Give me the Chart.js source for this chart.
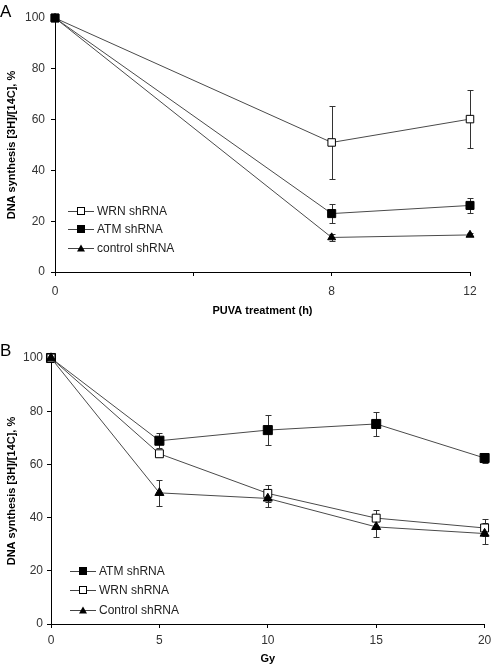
<!DOCTYPE html>
<html>
<head>
<meta charset="utf-8">
<script src="https://cdn.jsdelivr.net/npm/chart.js@4.4.1/dist/chart.umd.min.js"></script>
<style>
  body { margin: 0; background: #fff; font-family: "Liberation Sans", Arial, sans-serif; }
  #page { position: relative; width: 492px; height: 666px; overflow: hidden; }
  .panel { position: absolute; left: 0; width: 492px; }
  .tag { position: absolute; left: 0; font-size: 17px; line-height: 17px; color: #000; }
  .legend { position: absolute; font-size: 12px; color: #222; }
  .legend .row { position: relative; display: flex; align-items: center; }
  .legend .sym { position: relative; width: 26px; height: 12px; margin-right: 3px; }
  .legend .sym .ln { position: absolute; left: 0; right: 0; top: 6px; height: 1px; background: #444; }
  .legend .sym .mk { position: absolute; left: 50%; top: 50%; transform: translate(-50%, -50%); box-sizing: border-box; }
</style>
</head>
<body>
<div id="page">
  <div class="panel" style="top:0;height:330px;">
    <canvas id="chartA" width="492" height="330"></canvas>
  </div>
  <div class="panel" style="top:330px;height:336px;">
    <canvas id="chartB" width="492" height="336"></canvas>
  </div>
  <div class="tag" style="top:3px;">A</div>
  <div class="tag" style="top:342px;">B</div>
  <div class="legend" id="legendA" style="left:68px;top:202px;"></div>
  <div class="legend" id="legendB" style="left:70px;top:561px;"></div>
</div>
<script>
// ---- Panel A: PUVA treatment ----
const hoursA = [0, 8, 12];
const xTicksA = [0, 4, 8, 12]; // tick at 4 has no label in the original
const wrnA = [100, 51.0, 60.2];
const wrnErrA = [0, 14.2, 11.4];
const atmA = [100, 23.0, 26.2];
const atmErrA = [0, 3.9, 3.1];
const ctrlA = [100, 13.6, 14.6];
const ctrlErrA = [0, 1.4, 0.6];

// ---- Panel B: ionizing radiation ----
const doseB = [0, 5, 10, 15, 20];
const xTicksB = [0, 5, 10, 15, 20];
const atmB = [100, 68.9, 72.9, 75.2, 62.4];
const atmErrB = [0, 2.9, 5.5, 4.6, 1.7];
const wrnB = [100, 64.0, 49.1, 39.8, 36.1];
const wrnErrB = [0, 1.0, 3.2, 3.0, 3.2];
const ctrlB = [100, 49.3, 47.2, 36.5, 34.0];
const ctrlErrB = [0, 5.0, 3.2, 3.8, 3.8];

const yTicks = [0, 20, 40, 60, 80, 100];
const yTitle = "DNA synthesis [3H]/[14C], %";

const FONT = "'Liberation Sans', Arial, sans-serif";
const LINE = "#4a4a4a";

// barras de error verticales con tapas
const errorBars = {
  id: "errorBars",
  beforeDatasetsDraw(chart) {
    const { ctx, scales: { x, y } } = chart;
    ctx.save();
    ctx.strokeStyle = "#333";
    ctx.lineWidth = 1;
    chart.data.datasets.forEach((ds) => {
      (ds.errors || []).forEach((e, i) => {
        if (!e) return;
        const p = ds.data[i];
        const px = Math.round(x.getPixelForValue(p.x)) + 0.5;
        const top = Math.round(y.getPixelForValue(p.y + e)) + 0.5;
        const bot = Math.round(y.getPixelForValue(p.y - e)) + 0.5;
        ctx.beginPath();
        ctx.moveTo(px, top); ctx.lineTo(px, bot);
        ctx.moveTo(px - 3, top); ctx.lineTo(px + 3, top);
        ctx.moveTo(px - 3, bot); ctx.lineTo(px + 3, bot);
        ctx.stroke();
      });
    });
    ctx.restore();
  },
};

function series(label, xs, ys, errs, style, order, radius) {
  return {
    label: label,
    data: xs.map((x, i) => ({ x: x, y: ys[i] })),
    errors: errs,
    showLine: true,
    borderColor: LINE,
    borderWidth: 1,
    pointStyle: style === "tri" ? "triangle" : "rect",
    pointRadius: radius,
    pointBackgroundColor: style === "open" ? "#fff" : "#000",
    pointBorderColor: "#000",
    pointBorderWidth: 1,
    clip: false,
    order: order,
    legendStyle: style,
  };
}

function makeChart(id, datasets, xs, xMax, xTitle, box) {
  return new Chart(document.getElementById(id), {
    type: "scatter",
    data: { datasets: datasets },
    plugins: [errorBars],
    options: {
      responsive: false,
      animation: false,
      events: [],
      layout: { padding: { top: box.top, right: box.right, left: 0, bottom: 0 } },
      plugins: { legend: { display: false }, tooltip: { enabled: false } },
      scales: {
        x: {
          type: "linear",
          min: 0,
          max: xMax,
          afterFit: (s) => {
            s.height = box.xh;
            s.paddingLeft = 0;
            s.paddingRight = 0;
          },
          afterBuildTicks: (s) => { s.ticks = xs.map((v) => ({ value: v })); },
          ticks: {
            color: "#333",
            padding: box.xpad,
            maxRotation: 0,
            font: { family: FONT, size: 12 },
            callback: (v) => (box.hideTick === v ? "" : v),
          },
          grid: { display: true, drawOnChartArea: false, tickLength: 4, color: "#000" },
          border: { display: true, color: "#000" },
          title: {
            display: true,
            text: xTitle,
            color: "#000",
            font: { family: FONT, size: 11, weight: "bold" },
            padding: { top: 0, bottom: box.titlePad },
          },
        },
        y: {
          min: 0,
          max: 100,
          afterFit: (s) => { s.width = box.yw; },
          afterBuildTicks: (s) => { s.ticks = yTicks.map((v) => ({ value: v })); },
          ticks: { color: "#333", padding: box.ypad, font: { family: FONT, size: 12 } },
          grid: { display: true, drawOnChartArea: false, tickLength: 4, color: "#000" },
          border: { display: true, color: "#000" },
          title: {
            display: true,
            text: yTitle,
            color: "#000",
            font: { family: FONT, size: 11, weight: "bold" },
            padding: { top: 5, bottom: 4 },
          },
        },
      },
    },
  });
}

function buildLegend(el, chart, rowH) {
  chart.data.datasets.forEach((ds) => {
    const row = document.createElement("div");
    row.className = "row";
    row.style.height = rowH + "px";
    const sym = document.createElement("div");
    sym.className = "sym";
    sym.innerHTML = '<div class="ln"></div>';
    const mk = document.createElement("div");
    mk.className = "mk";
    if (ds.legendStyle === "tri") {
      mk.style.cssText += "width:0;height:0;border-left:4.5px solid transparent;border-right:4.5px solid transparent;border-bottom:7px solid #000;";
    } else {
      mk.style.cssText += "width:8px;height:8px;border:1px solid #000;background:" + (ds.legendStyle === "open" ? "#fff" : "#000") + ";";
    }
    sym.appendChild(mk);
    const txt = document.createElement("span");
    txt.textContent = ds.label;
    row.appendChild(sym);
    row.appendChild(txt);
    el.appendChild(row);
  });
}

const chartA = makeChart("chartA", [
  series("WRN shRNA", hoursA, wrnA, wrnErrA, "open", 2, 5.3),
  series("ATM shRNA", hoursA, atmA, atmErrA, "filled", 0, 5.7),
  series("control shRNA", hoursA, ctrlA, ctrlErrA, "tri", 1, 4.6),
], xTicksA, 12, "PUVA treatment (h)",
  { top: 18, right: 22, xh: 58, yw: 55, xpad: 8, ypad: 6, titlePad: 12, hideTick: 4 });

const chartB = makeChart("chartB", [
  series("ATM shRNA", doseB, atmB, atmErrB, "filled", 2, 6.4),
  series("WRN shRNA", doseB, wrnB, wrnErrB, "open", 1, 5.6),
  series("Control shRNA", doseB, ctrlB, ctrlErrB, "tri", 0, 5.2),
], xTicksB, 20, "Gy",
  { top: 28, right: 6, xh: 42, yw: 51, xpad: 5, ypad: 4, titlePad: 0, hideTick: null });

buildLegend(document.getElementById("legendA"), chartA, 18.3);
buildLegend(document.getElementById("legendB"), chartB, 19.5);
</script>
</body>
</html>
